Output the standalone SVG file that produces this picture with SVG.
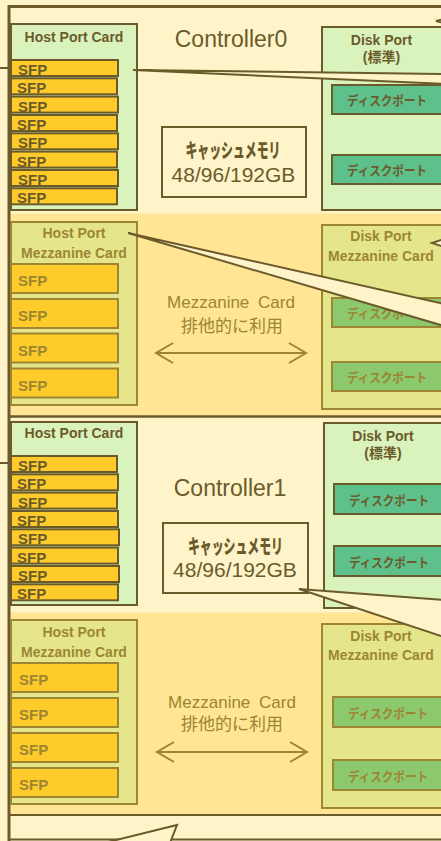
<svg xmlns="http://www.w3.org/2000/svg" width="441" height="841" viewBox="0 0 441 841">
<style>
.ol{stroke:#6B5B2B;stroke-width:2;fill:none}
.card{fill:#DAF2BC;stroke:#6B5B2B;stroke-width:2}
.mcard{fill:#E5E68C;stroke:#9C8632;stroke-width:2}
.sfp{fill:#FFCB2B;stroke:#6B5B2B;stroke-width:2}
.msfp{fill:#FFCB2B;stroke:#9C8632;stroke-width:2}
.dp{fill:#5EC08A;stroke:#6B5B2B;stroke-width:2}
.mdp{fill:#8CC86E;stroke:#9C8632;stroke-width:2}
.cache{fill:#FFF3C9;stroke:#6B5B2B;stroke-width:2}
.wedge{fill:#FFF3C9;stroke:#6B5B2B;stroke-width:2;stroke-linejoin:miter}
.t{font-family:"Liberation Sans","Noto Sans CJK JP",sans-serif;font-weight:bold;font-size:14px;fill:#6B5B2B}
.mt{font-family:"Liberation Sans","Noto Sans CJK JP",sans-serif;font-weight:bold;font-size:14px;fill:#9C8632}
.s{font-size:15px}
.c{text-anchor:middle}
.jp{font-family:"Noto Sans CJK JP",sans-serif;font-weight:bold;font-size:13px;text-anchor:middle}
.big{font-family:"Liberation Sans","Noto Sans CJK JP",sans-serif;font-size:23px;fill:#6B5B2B;text-anchor:middle}
.cap{font-family:"Liberation Sans",sans-serif;font-size:21px;fill:#6B5B2B;text-anchor:middle}
.cj{font-family:"Noto Sans CJK JP",sans-serif;font-weight:900;font-size:20px;fill:#6B5B2B;text-anchor:middle}
.mz{font-family:"Liberation Sans","Noto Sans CJK JP",sans-serif;font-size:17px;fill:#9C8632;text-anchor:middle}
.arr{stroke:#9C8632;stroke-width:2;fill:none}
</style>
<defs>
<marker id="ah" markerUnits="userSpaceOnUse" markerWidth="20" markerHeight="24" viewBox="-18 -11 20 22" refX="0" refY="0" orient="auto-start-reverse">
<path d="M-17,-10 L0,0 L-17,10" fill="none" stroke="#9C8632" stroke-width="2"/>
</marker>
</defs>
<rect x="0" y="0" width="441" height="841" fill="#FFF3C9"/>
<g id="enclosure">
<rect x="10.5" y="213.5" width="431" height="202" fill="#FFE594"/>
<rect x="10.5" y="612.5" width="431" height="201.5" fill="#FFE594"/>
<line x1="9" y1="6.5" x2="441" y2="6.5" stroke="#6B5B2B" stroke-width="3"/>
<line x1="9" y1="5" x2="9" y2="841" stroke="#6B5B2B" stroke-width="3"/>
<line x1="9" y1="416.5" x2="441" y2="416.5" stroke="#6B5B2B" stroke-width="2.5"/>
<line x1="9" y1="815" x2="441" y2="815" stroke="#6B5B2B" stroke-width="2"/>
<line x1="9" y1="839.5" x2="441" y2="839.5" stroke="#6B5B2B" stroke-width="2"/>
<text class="big" x="231" y="47">Controller0</text>
<text class="big" x="230" y="496">Controller1</text>
</g>
<g id="hostport0">
<rect class="card" x="11" y="24" width="126" height="186"/>
<text class="t c" x="74" y="42">Host Port Card</text>
<rect class="sfp" x="11" y="60" width="107" height="16"/>
<rect class="sfp" x="11" y="78.3" width="106" height="16"/>
<rect class="sfp" x="11" y="96.6" width="107" height="16"/>
<rect class="sfp" x="11" y="115" width="106" height="16"/>
<rect class="sfp" x="11" y="133.3" width="107" height="16"/>
<rect class="sfp" x="11" y="151.6" width="106" height="16"/>
<rect class="sfp" x="11" y="170" width="107" height="16"/>
<rect class="sfp" x="11" y="188.3" width="106" height="16"/>
<text class="t s" x="18" y="75">SFP</text>
<text class="t s" x="17" y="93.3">SFP</text>
<text class="t s" x="18" y="111.6">SFP</text>
<text class="t s" x="17" y="130">SFP</text>
<text class="t s" x="18" y="148.3">SFP</text>
<text class="t s" x="17" y="166.6">SFP</text>
<text class="t s" x="18" y="185">SFP</text>
<text class="t s" x="17" y="203.3">SFP</text>
</g>
<g id="cache0">
<rect class="cache" x="162" y="127" width="144" height="70"/>
<text class="cj" x="233" y="158" textLength="95" lengthAdjust="spacingAndGlyphs">キャッシュメモリ</text>
<text class="cap" x="233.5" y="182">48/96/192GB</text>
</g>
<g id="diskport0">
<rect class="card" x="322" y="27" width="125" height="183"/>
<text class="t c" x="381.5" y="45">Disk Port</text>
<text class="t c" x="381.5" y="62">(標準)</text>
<rect class="dp" x="332" y="85" width="115" height="29"/>
<rect class="dp" x="332" y="155" width="115" height="29"/>
<text class="jp" x="387" y="105" fill="#6B5B2B" textLength="80" lengthAdjust="spacingAndGlyphs">ディスクポート</text>
<text class="jp" x="387" y="175" fill="#6B5B2B" textLength="80" lengthAdjust="spacingAndGlyphs">ディスクポート</text>
</g>
<g id="hostmezz0">
<rect class="mcard" x="11" y="222" width="126" height="183"/>
<text class="mt c" x="74" y="238">Host Port</text>
<text class="mt c" x="74" y="258">Mezzanine Card</text>
<rect class="msfp" x="11" y="264" width="107" height="29"/>
<rect class="msfp" x="11" y="299" width="107" height="29"/>
<rect class="msfp" x="11" y="333.5" width="107" height="29"/>
<rect class="msfp" x="11" y="368.5" width="107" height="29"/>
<text class="mt s" x="18" y="286">SFP</text>
<text class="mt s" x="18" y="321">SFP</text>
<text class="mt s" x="18" y="355.5">SFP</text>
<text class="mt s" x="18" y="390.5">SFP</text>
</g>
<g id="diskmezz0">
<rect class="mcard" x="322" y="225" width="125" height="184"/>
<text class="mt c" x="381" y="241">Disk Port</text>
<text class="mt c" x="381" y="261">Mezzanine Card</text>
<rect class="mdp" x="332" y="298" width="115" height="29"/>
<rect class="mdp" x="332" y="362" width="115" height="29"/>
<text class="jp" x="387" y="318" fill="#9C8632" textLength="80" lengthAdjust="spacingAndGlyphs">ディスクポート</text>
<text class="jp" x="387" y="382" fill="#9C8632" textLength="80" lengthAdjust="spacingAndGlyphs">ディスクポート</text>
</g>
<g id="mezznote0">
<text class="mz" x="231" y="308" word-spacing="4">Mezzanine Card</text>
<text class="mz" x="232" y="332">排他的に利用</text>
</g>
<g id="hostport1">
<rect class="card" x="11" y="422" width="126" height="183"/>
<text class="t c" x="74" y="438">Host Port Card</text>
<rect class="sfp" x="11" y="456" width="106" height="16"/>
<rect class="sfp" x="11" y="474.3" width="107" height="16"/>
<rect class="sfp" x="11" y="492.6" width="106" height="16"/>
<rect class="sfp" x="11" y="511" width="107" height="16"/>
<rect class="sfp" x="11" y="529.3" width="108" height="16"/>
<rect class="sfp" x="11" y="547.6" width="107" height="16"/>
<rect class="sfp" x="11" y="566" width="108" height="16"/>
<rect class="sfp" x="11" y="584.3" width="107" height="16"/>
<text class="t s" x="18" y="471">SFP</text>
<text class="t s" x="17" y="489.3">SFP</text>
<text class="t s" x="18" y="507.6">SFP</text>
<text class="t s" x="17" y="526">SFP</text>
<text class="t s" x="18" y="544.3">SFP</text>
<text class="t s" x="17" y="562.6">SFP</text>
<text class="t s" x="18" y="581">SFP</text>
<text class="t s" x="17" y="599.3">SFP</text>
</g>
<g id="cache1">
<rect class="cache" x="163" y="523" width="145" height="70"/>
<text class="cj" x="235.5" y="554" textLength="95" lengthAdjust="spacingAndGlyphs">キャッシュメモリ</text>
<text class="cap" x="235" y="577">48/96/192GB</text>
</g>
<g id="diskport1">
<rect class="card" x="324" y="423" width="125" height="185"/>
<text class="t c" x="383" y="441">Disk Port</text>
<text class="t c" x="383" y="458">(標準)</text>
<rect class="dp" x="334" y="484" width="115" height="30"/>
<rect class="dp" x="334" y="546" width="115" height="30"/>
<text class="jp" x="389" y="504.5" fill="#6B5B2B" textLength="80" lengthAdjust="spacingAndGlyphs">ディスクポート</text>
<text class="jp" x="389" y="566.5" fill="#6B5B2B" textLength="80" lengthAdjust="spacingAndGlyphs">ディスクポート</text>
</g>
<g id="hostmezz1">
<rect class="mcard" x="11" y="620" width="126" height="184"/>
<text class="mt c" x="74" y="637">Host Port</text>
<text class="mt c" x="74" y="657">Mezzanine Card</text>
<rect class="msfp" x="11" y="663" width="107" height="29"/>
<rect class="msfp" x="11" y="698" width="107" height="29"/>
<rect class="msfp" x="11" y="733" width="107" height="29"/>
<rect class="msfp" x="11" y="768" width="107" height="29"/>
<text class="mt s" x="19" y="685">SFP</text>
<text class="mt s" x="19" y="720">SFP</text>
<text class="mt s" x="19" y="755">SFP</text>
<text class="mt s" x="19" y="790">SFP</text>
</g>
<g id="diskmezz1">
<rect class="mcard" x="322" y="624" width="125" height="184"/>
<text class="mt c" x="381" y="641">Disk Port</text>
<text class="mt c" x="381" y="660">Mezzanine Card</text>
<rect class="mdp" x="333" y="697" width="115" height="30"/>
<rect class="mdp" x="333" y="760" width="115" height="30"/>
<text class="jp" x="388" y="717.5" fill="#9C8632" textLength="80" lengthAdjust="spacingAndGlyphs">ディスクポート</text>
<text class="jp" x="388" y="780.5" fill="#9C8632" textLength="80" lengthAdjust="spacingAndGlyphs">ディスクポート</text>
</g>
<g id="mezznote1">
<text class="mz" x="232" y="708" word-spacing="4">Mezzanine Card</text>
<text class="mz" x="232" y="730">排他的に利用</text>
</g>
<g id="connectors">
<line class="arr" x1="156" y1="353" x2="306" y2="353" marker-start="url(#ah)" marker-end="url(#ah)"/>
<line class="arr" x1="157" y1="752" x2="307" y2="752" marker-start="url(#ah)" marker-end="url(#ah)"/>
<line class="ol" x1="0" y1="68" x2="9" y2="68"/>
<line class="ol" x1="0" y1="463" x2="9" y2="463"/>
<polygon class="wedge" points="133,70 444,74 444,84"/>
<polygon class="wedge" points="128,233 444,304 444,326"/>
<polygon class="wedge" points="299,589 444,600 444,637"/>
<polygon class="wedge" points="104,843 177,825 170,843"/>
<polygon class="wedge" points="436,21 444,19 444,23"/>
<polygon class="wedge" points="432,243 444,239 444,247"/>
</g>
</svg>
